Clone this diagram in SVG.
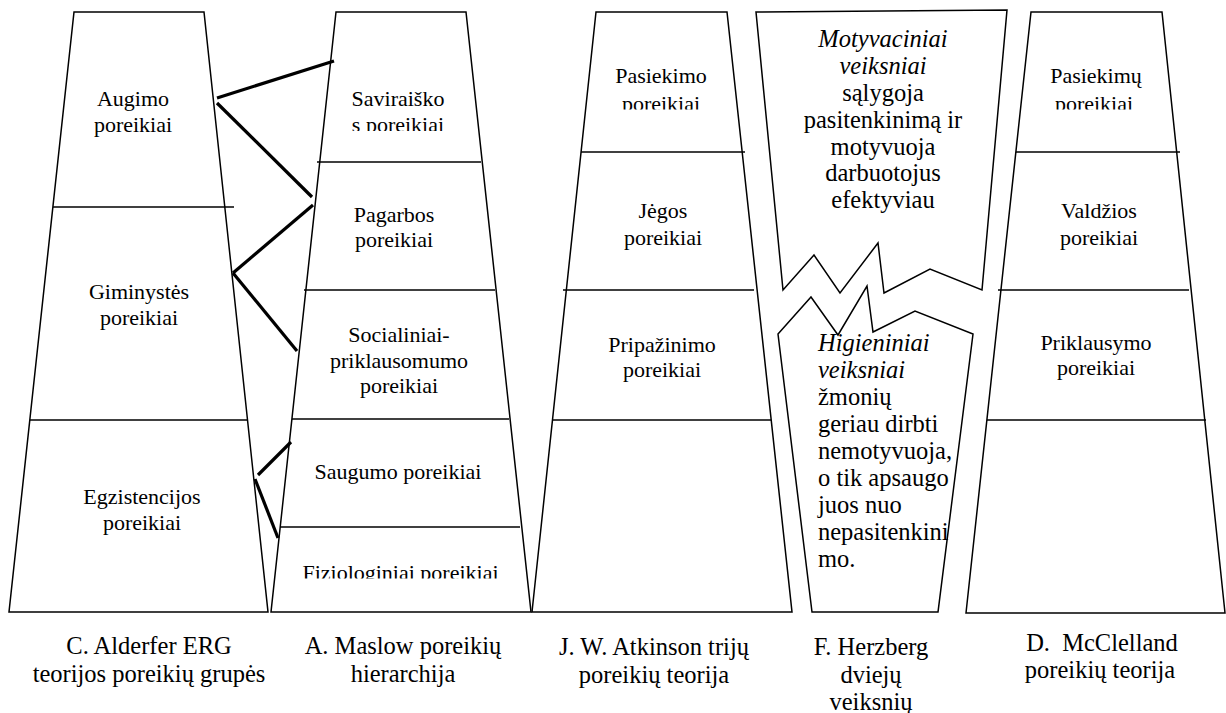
<svg xmlns="http://www.w3.org/2000/svg" width="1226" height="713" viewBox="0 0 1226 713">
  <style>
    .edge{fill:none;stroke:#000;stroke-width:1.5;stroke-linejoin:miter}
    .div{stroke:#000;stroke-width:1.5}
    .link{stroke:#000;stroke-width:3.2;stroke-linecap:butt}
    .lbl{font-size:22px;text-anchor:middle}
    .cap{font-size:24.5px;text-anchor:middle;white-space:pre}
    .hz{font-size:24.5px}
    .hzc{text-anchor:middle}
    .it{font-style:italic}
  </style>
  <defs>
    <clipPath id="clipAtk1"><rect x="520" y="60" width="280" height="49.5"/></clipPath>
    <clipPath id="clipMas1"><rect x="300" y="80" width="200" height="51"/></clipPath>
    <clipPath id="clipMas5"><rect x="270" y="540" width="260" height="38.5"/></clipPath>
    <clipPath id="clipMcc1"><rect x="980" y="60" width="240" height="49.5"/></clipPath>
  </defs>
  <rect width="1226" height="713" fill="#fff"/>

  <g font-family="Liberation Serif, Tinos, Times New Roman, Times, Nimbus Roman, Nimbus Roman No9 L, FreeSerif, Noto Serif, DejaVu Serif, serif" fill="#000">
  <!-- ERG groups -->
  <g id="alderfer">
    <polygon class="edge" points="74,12 204,12 268,612 9,612"/>
    <line class="div" x1="53" y1="207" x2="234" y2="207"/>
    <line class="div" x1="30" y1="420" x2="248" y2="420"/>
    <text class="lbl" x="133" y="106">Augimo</text>
    <text class="lbl" x="133" y="131.5">poreikiai</text>
    <text class="lbl" x="139" y="299">Giminystės</text>
    <text class="lbl" x="139" y="325">poreikiai</text>
    <text class="lbl" x="142" y="504">Egzistencijos</text>
    <text class="lbl" x="142" y="530">poreikiai</text>
    <text class="cap" x="149" y="654">C. Alderfer ERG</text>
    <text class="cap" x="149" y="682">teorijos poreikių grupės</text>
  </g>

  <!-- Maslow hierarchy -->
  <g id="maslow">
    <polygon class="edge" points="336,12 466,12 531,612 271,612"/>
    <line class="div" x1="317" y1="162" x2="481" y2="162"/>
    <line class="div" x1="304" y1="290" x2="495" y2="290"/>
    <line class="div" x1="292" y1="419" x2="509" y2="419"/>
    <line class="div" x1="280" y1="527" x2="520" y2="527"/>
    <text class="lbl" x="398" y="106">Saviraiško</text>
    <text class="lbl" x="398" y="132" clip-path="url(#clipMas1)">s poreikiai</text>
    <text class="lbl" x="394" y="222">Pagarbos</text>
    <text class="lbl" x="394" y="247">poreikiai</text>
    <text class="lbl" x="399" y="342">Socialiniai-</text>
    <text class="lbl" x="399" y="368">priklausomumo</text>
    <text class="lbl" x="399" y="393">poreikiai</text>
    <text class="lbl" x="398" y="479">Saugumo poreikiai</text>
    <text class="lbl" x="400.5" y="579.5" clip-path="url(#clipMas5)">Fiziologiniai poreikiai</text>
    <text class="cap" x="403" y="654">A. Maslow poreikių</text>
    <text class="cap" x="403" y="682">hierarchija</text>
  </g>

  <!-- Atkinson three needs -->
  <g id="atkinson">
    <polygon class="edge" points="596,12 727,12 792,612 532,612"/>
    <line class="div" x1="581" y1="152" x2="745" y2="152"/>
    <line class="div" x1="563" y1="290" x2="754" y2="290"/>
    <line class="div" x1="552" y1="420" x2="771" y2="420"/>
    <text class="lbl" x="661" y="83">Pasiekimo</text>
    <text class="lbl" x="661" y="110.5" clip-path="url(#clipAtk1)">poreikiai</text>
    <text class="lbl" x="663" y="218">Jėgos</text>
    <text class="lbl" x="663" y="245">poreikiai</text>
    <text class="lbl" x="662" y="352">Pripažinimo</text>
    <text class="lbl" x="662" y="377">poreikiai</text>
    <text class="cap" x="654" y="655">J. W. Atkinson trijų</text>
    <text class="cap" x="654" y="683">poreikių teorija</text>
  </g>

  <!-- Herzberg two factors -->
  <g id="herzberg">
    <polygon class="edge" points="756,12 1007,10 982,290 930,269 884,293 878,243 840,293 814,255 783,290"/>
    <polygon class="edge" points="778,334 811,297 838,335 867,286 873,332 915,311 973,334 938,612 812,612"/>
    <text class="hz hzc it" x="883" y="47">Motyvaciniai</text>
    <text class="hz hzc it" x="883" y="74">veiksniai</text>
    <text class="hz hzc" x="883" y="101">sąlygoja</text>
    <text class="hz hzc" x="883" y="128">pasitenkinimą ir</text>
    <text class="hz hzc" x="883" y="155">motyvuoja</text>
    <text class="hz hzc" x="883" y="181">darbuotojus</text>
    <text class="hz hzc" x="883" y="208">efektyviau</text>
    <text class="hz it" x="818" y="351">Higieniniai</text>
    <text class="hz it" x="818" y="378">veiksniai</text>
    <text class="hz" x="818" y="405">žmonių</text>
    <text class="hz" x="818" y="432">geriau dirbti</text>
    <text class="hz" x="818" y="459">nemotyvuoja,</text>
    <text class="hz" x="818" y="486">o tik apsaugo</text>
    <text class="hz" x="818" y="513">juos nuo</text>
    <text class="hz" x="818" y="540">nepasitenkini</text>
    <text class="hz" x="818" y="567">mo.</text>
    <text class="cap" x="871" y="655">F. Herzberg</text>
    <text class="cap" x="871" y="683">dviejų</text>
    <text class="cap" x="871" y="710">veiksnių</text>
  </g>

  <!-- McClelland needs -->
  <g id="mcclelland">
    <polygon class="edge" points="1031,12 1162,12 1225,613 966,613"/>
    <line class="div" x1="1016" y1="152" x2="1180" y2="152"/>
    <line class="div" x1="998" y1="290" x2="1189" y2="290"/>
    <line class="div" x1="987" y1="420" x2="1206" y2="420"/>
    <text class="lbl" x="1096" y="83">Pasiekimų</text>
    <text class="lbl" x="1094" y="110.5" clip-path="url(#clipMcc1)">poreikiai</text>
    <text class="lbl" x="1099" y="218">Valdžios</text>
    <text class="lbl" x="1099" y="245">poreikiai</text>
    <text class="lbl" x="1096" y="350">Priklausymo</text>
    <text class="lbl" x="1096" y="375">poreikiai</text>
    <text class="cap" x="1102" y="651">D.  McClelland</text>
    <text class="cap" x="1100" y="678">poreikių teorija</text>
  </g>
  </g>

  <!-- links between ERG groups and Maslow levels -->
  <g id="connectors">
    <line class="link" x1="217" y1="98" x2="334" y2="61"/>
    <line class="link" x1="217" y1="103" x2="312" y2="197"/>
    <line class="link" x1="233" y1="273" x2="313" y2="205"/>
    <line class="link" x1="233" y1="273" x2="297" y2="351"/>
    <line class="link" x1="291" y1="442" x2="258" y2="475"/>
    <line class="link" x1="255" y1="479" x2="278" y2="538"/>
  </g>
</svg>
